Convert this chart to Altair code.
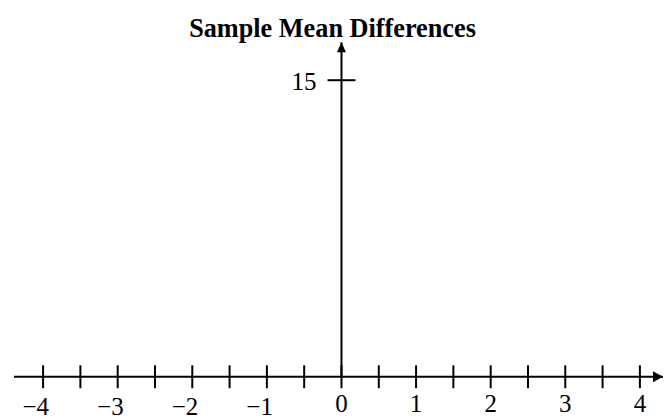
import altair as alt
import pandas as pd

# ---- chart content ----
title_text = "Sample Mean Differences"
x_tick_values = [-4, -3.5, -3, -2.5, -2, -1.5, -1, -0.5, 0, 0.5, 1, 1.5, 2, 2.5, 3, 3.5, 4]
x_label_values = [-4, -3, -2, -1, 0, 1, 2, 3, 4]
x_label_texts = ["\u22124", "\u22123", "\u22122", "\u22121", "0", "1", "2", "3", "4"]
y_tick_values = [15]
y_label_texts = ["15"]
x_extent = [-4.39, 4.31]   # where the horizontal axis line starts / its arrow tip
y_extent = [0, 16.92]      # vertical axis from the x axis up to its arrow tip

FONT = "Liberation Serif"
BLACK = "#000000"

xs = alt.Scale(domain=x_extent, nice=False, zero=False)
ys = alt.Scale(domain=y_extent, nice=False, zero=False)

X = lambda f: alt.X(f, type="quantitative", scale=xs, axis=None)
Y = lambda f: alt.Y(f, type="quantitative", scale=ys, axis=None)

# axis lines
xline_df = pd.DataFrame({"x": [x_extent[0]], "x2": [x_extent[1]], "y": [0]})
yline_df = pd.DataFrame({"x": [0], "y": [y_extent[0]], "y2": [y_extent[1]]})

x_line = alt.Chart(xline_df).mark_rule(color=BLACK, strokeWidth=2, strokeCap="butt").encode(
    x=X("x"), x2="x2", y=Y("y"))
y_line = alt.Chart(yline_df).mark_rule(color=BLACK, strokeWidth=2, strokeCap="butt").encode(
    x=X("x"), y=Y("y"), y2="y2")

# arrowheads (tip of each path is at the symbol centre)
x_arrow_df = pd.DataFrame({"x": [x_extent[1]], "y": [0]})
y_arrow_df = pd.DataFrame({"x": [0], "y": [y_extent[1]]})
x_arrow = alt.Chart(x_arrow_df).mark_point(
    shape="M0,0L-1,-0.55L-1,0.55Z", filled=True, size=400, color=BLACK, opacity=1, strokeWidth=0
).encode(x=X("x"), y=Y("y"))
y_arrow = alt.Chart(y_arrow_df).mark_point(
    shape="M0,0L-0.45,1L0.45,1Z", filled=True, size=400, color=BLACK, opacity=1, strokeWidth=0
).encode(x=X("x"), y=Y("y"))

# ticks
xt_df = pd.DataFrame({"x": x_tick_values, "y": [0] * len(x_tick_values)})
x_ticks = alt.Chart(xt_df).mark_tick(orient="vertical", size=23, thickness=2, color=BLACK, opacity=1).encode(
    x=X("x"), y=Y("y"))
yt_df = pd.DataFrame({"x": [0] * len(y_tick_values), "y": y_tick_values})
y_ticks = alt.Chart(yt_df).mark_tick(orient="horizontal", size=28, thickness=2, color=BLACK, opacity=1).encode(
    x=X("x"), y=Y("y"))

# labels
lab_df = pd.DataFrame({"x": x_label_values, "label": x_label_texts, "y": [0] * len(x_label_values)})
neg_df = lab_df[lab_df["x"] < 0]
pos_df = lab_df[lab_df["x"] >= 0]
neg_labels = alt.Chart(neg_df).mark_text(
    font=FONT, fontSize=25, color=BLACK, align="right", baseline="alphabetic", dx=6, dy=38
).encode(x=X("x"), y=Y("y"), text="label:N")
pos_labels = alt.Chart(pos_df).mark_text(
    font=FONT, fontSize=25, color=BLACK, align="center", baseline="alphabetic", dy=35
).encode(x=X("x"), y=Y("y"), text="label:N")

ylab_df = pd.DataFrame({"x": [0] * len(y_tick_values), "y": y_tick_values, "label": y_label_texts})
y_labels = alt.Chart(ylab_df).mark_text(
    font=FONT, fontSize=25, color=BLACK, align="right", baseline="alphabetic", dx=-25, dy=10
).encode(x=X("x"), y=Y("y"), text="label:N")

chart = alt.layer(
    x_line, y_line, x_ticks, y_ticks, x_arrow, y_arrow, neg_labels, pos_labels, y_labels
).properties(
    width=650,
    height=335,
    background="white",
    title=alt.TitleParams(title_text, font=FONT, fontSize=26.3, fontWeight="bold", color=BLACK,
                          anchor="middle", baseline="alphabetic", offset=-22, dx=-6),
    autosize=alt.AutoSizeParams(type="none"),
    padding={"left": 6, "top": 34, "right": 0, "bottom": 42},
).configure_view(strokeWidth=0, stroke="transparent")

chart.save("out.html", embed_options={"renderer": "svg", "actions": False})
